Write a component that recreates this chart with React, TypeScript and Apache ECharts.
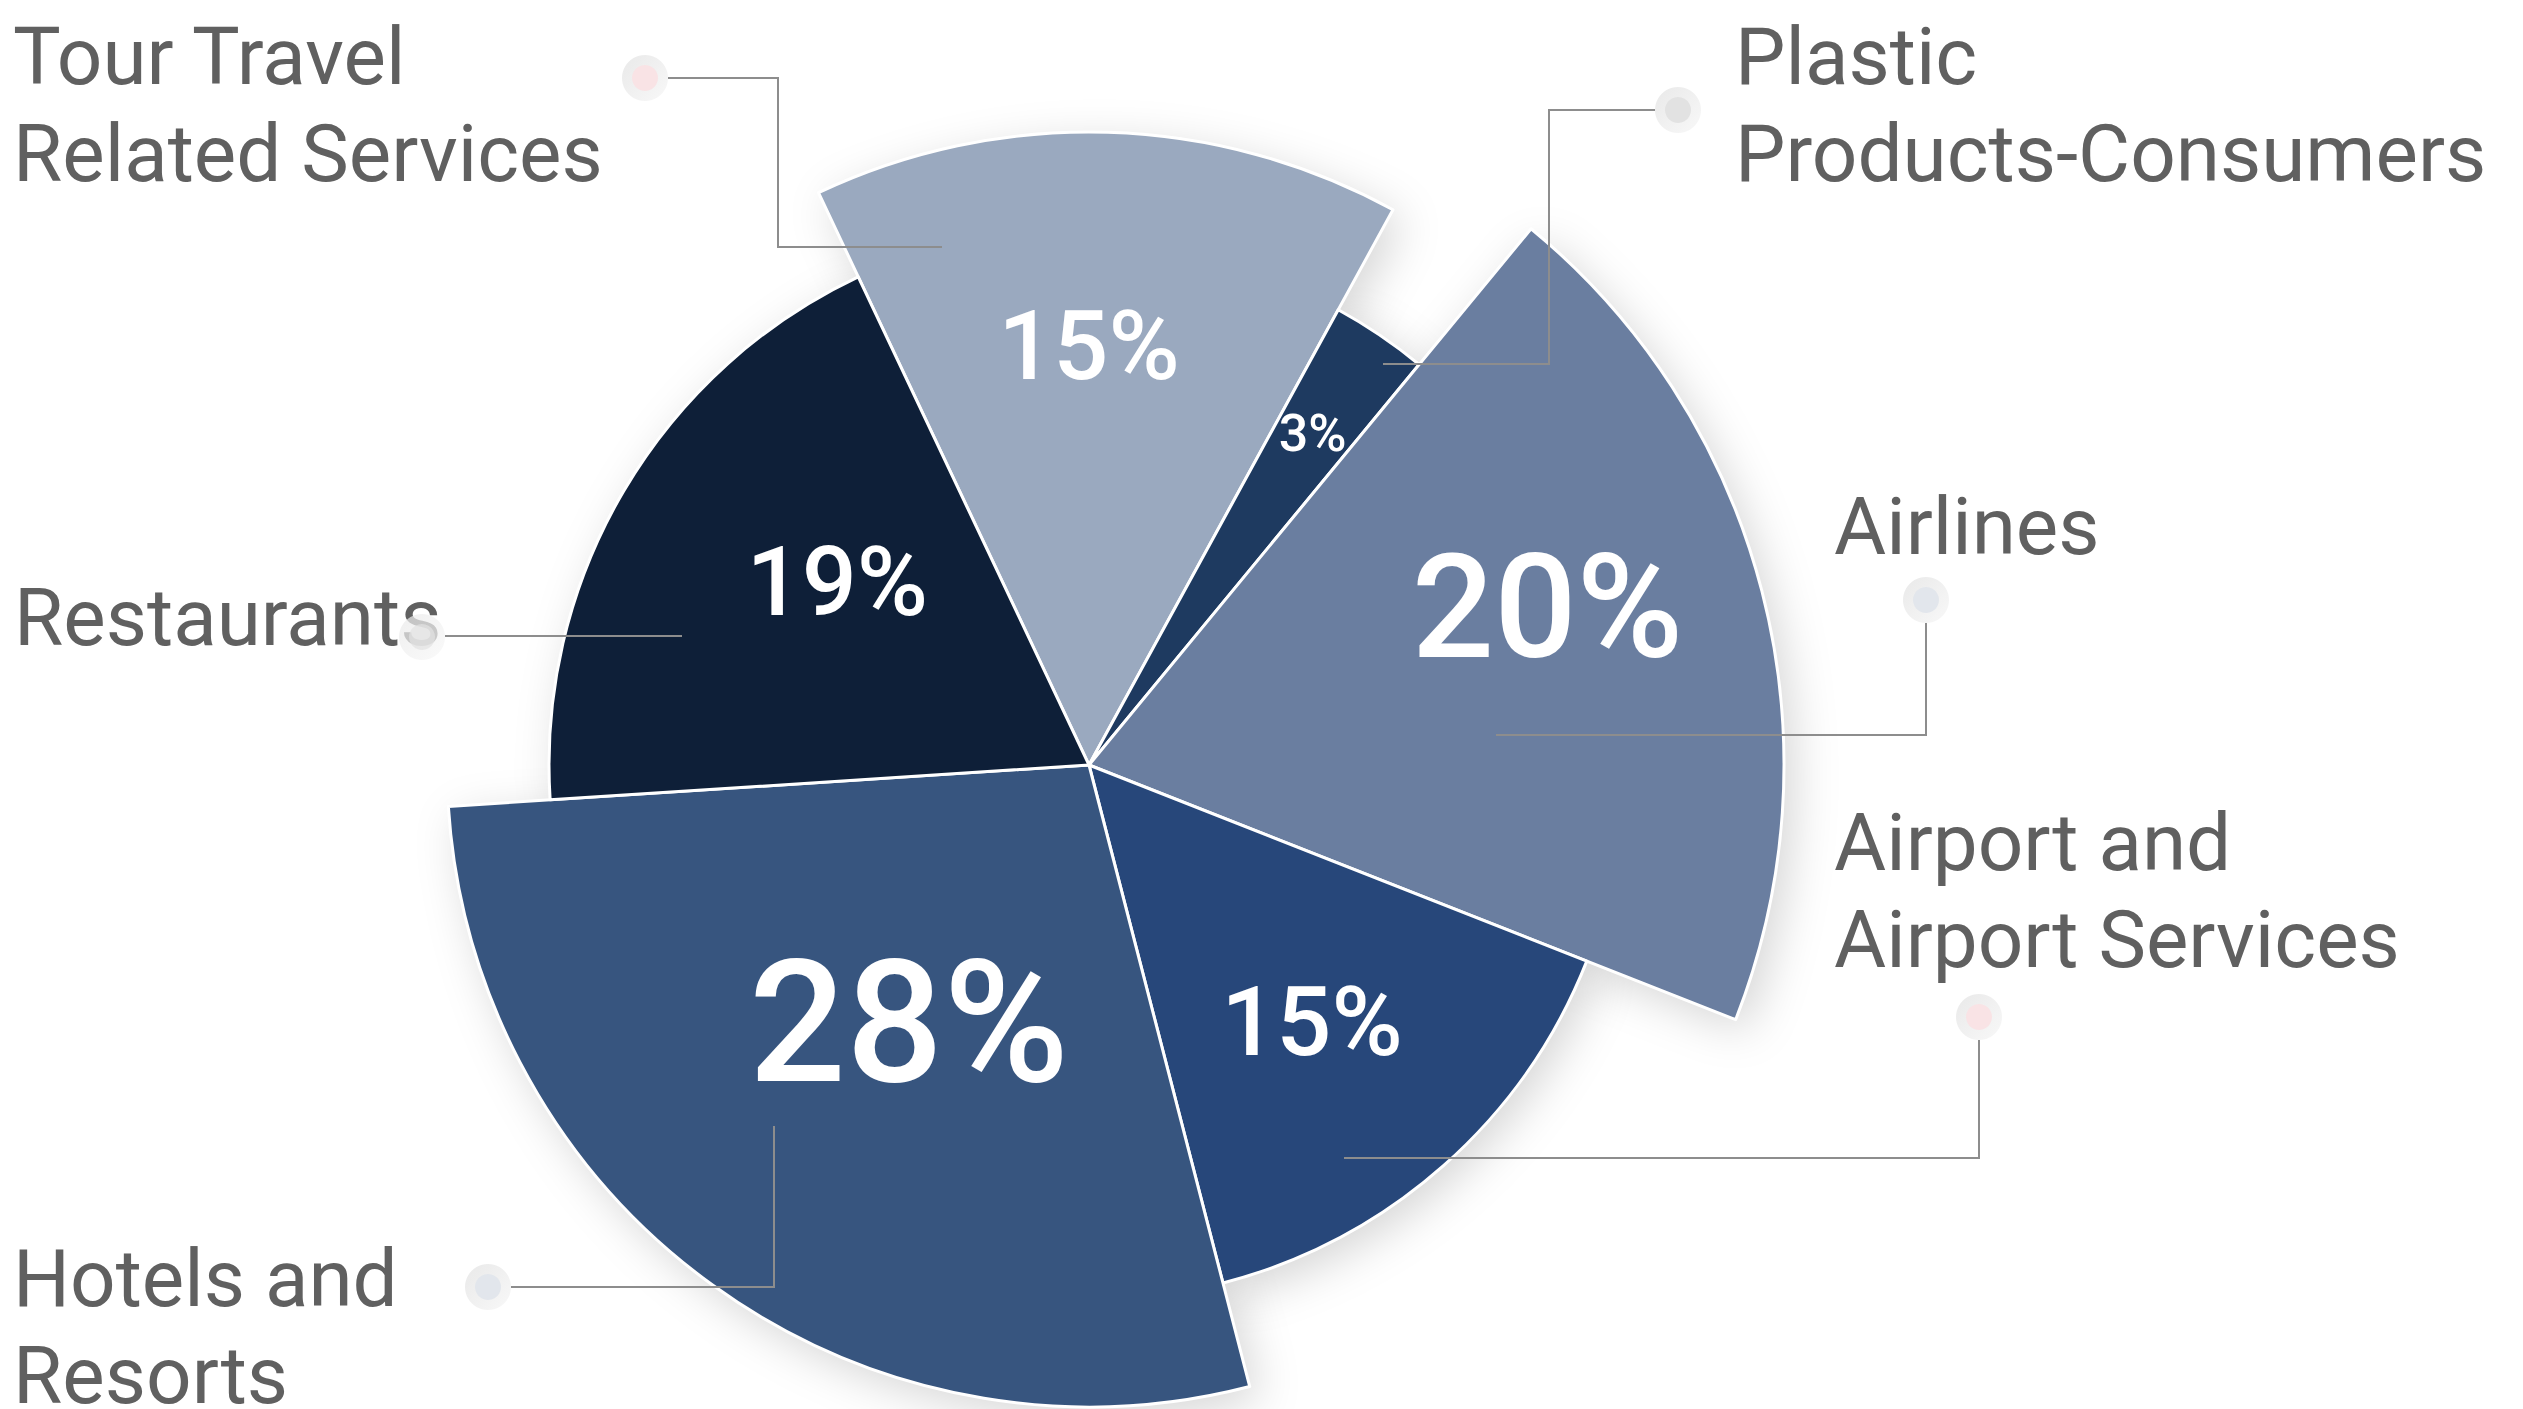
import React, { useEffect, useRef } from "react";
import * as echarts from "echarts";

// ---------- data ----------
const categories = [
  "Tour Travel Related Services",
  "Plastic Products-Consumers",
  "Airlines",
  "Airport and Airport Services",
  "Hotels and Resorts",
  "Restaurants",
];
const shares = [15, 3, 20, 15, 28, 19];
const nameLabels = [
  "Tour Travel\nRelated Services",
  "Plastic\nProducts-Consumers",
  "Airlines",
  "Airport and\nAirport Services",
  "Hotels and\nResorts",
  "Restaurants",
];

// ---------- styling / layout ----------
const W = 2523;
const H = 1409;
const CX = 1089;
const CY = 765;
const START_ANGLE = 115.3;
const sliceColors = ["#9aa9bf", "#1e3a60", "#6a7ea0", "#27477a", "#37557f", "#0e1f38"];
const sliceRadius = [633, 519, 695, 535, 642, 540];
const pctFontSize = [97, 52, 145, 97, 171, 97];
// [angle from 12 o'clock clockwise (deg), distance from centre (px)]
const pctLabelPolar = [
  [0, 419],
  [34, 400],
  [71, 485],
  [139, 340],
  [215, 314],
  [306, 311],
];
const nameLabelAnchor = [
  [13, 105],
  [1735, 105],
  [1834, 527],
  [1834, 891],
  [13, 1327],
  [14, 618],
];
const leaderPoints = [
  [[942, 247], [778, 247], [778, 78], [668, 78]],
  [[1383, 364], [1549, 364], [1549, 110], [1655, 110]],
  [[1496, 735], [1926, 735], [1926, 623]],
  [[1344, 1158], [1979, 1158], [1979, 1040]],
  [[774, 1126], [774, 1287], [511, 1287]],
  [[682, 636], [445, 636]],
];
const dotCenter = [
  [645, 78],
  [1678, 110],
  [1926, 600],
  [1979, 1017],
  [488, 1287],
  [422, 637],
];
const dotInner = ["#f9e3e5", "#e2e2e2", "#e2e6ec", "#f9e3e5", "#e2e6ec", "#e2e2e2"];
const dotOpacity = [1, 1, 1, 1, 1, 0.72];

const hidden = {
  itemStyle: { color: "rgba(0,0,0,0)", borderWidth: 0, shadowBlur: 0, shadowColor: "rgba(0,0,0,0)" },
  label: { show: false },
  labelLine: { show: false },
};

function sliceSeries(i: number, withShadow: boolean): any {
  return {
    type: "pie",
    z: withShadow ? 1 : 2,
    silent: true,
    center: [CX, CY],
    radius: [0, sliceRadius[i]],
    startAngle: START_ANGLE,
    clockwise: true,
    avoidLabelOverlap: false,
    emphasis: { disabled: true },
    labelLayout: withShadow
      ? undefined
      : () => {
          const [a, d] = pctLabelPolar[i];
          const rad = (a * Math.PI) / 180;
          return {
            x: CX + d * Math.sin(rad),
            y: CY - d * Math.cos(rad),
            align: "center",
            verticalAlign: "middle",
          };
        },
    data: shares.map((v, j) => {
      if (j !== i) return { value: v, name: categories[j], ...hidden };
      return {
        value: v,
        name: categories[j],
        itemStyle: withShadow
          ? {
              color: "#ffffff",
              borderWidth: 0,
              shadowBlur: 45,
              shadowColor: "rgba(0,0,0,0.16)",
              shadowOffsetX: 10,
              shadowOffsetY: 12,
            }
          : { color: sliceColors[j], borderColor: "#ffffff", borderWidth: 3 },
        label: withShadow
          ? { show: false }
          : {
              show: true,
              position: "inside",
              formatter: `${v}%`,
              color: "#ffffff",
              fontFamily: "Roboto",
              fontWeight: 500,
              fontSize: pctFontSize[j],
            },
        labelLine: { show: false },
      };
    }),
  };
}

export default function App() {
  const ref = useRef<HTMLDivElement>(null);

  useEffect(() => {
    if (!ref.current) return;
    const chart = echarts.init(ref.current, null, { renderer: "svg" });

    const series: any[] = [];
    for (let i = 0; i < shares.length; i++) series.push(sliceSeries(i, true));
    for (let i = 0; i < shares.length; i++) series.push(sliceSeries(i, false));

    // transparent carrier series for the category name labels and their leader lines
    series.push({
      type: "pie",
      z: 3,
      silent: true,
      center: [CX, CY],
      radius: [0, 200],
      startAngle: START_ANGLE,
      avoidLabelOverlap: false,
      emphasis: { disabled: true },
      itemStyle: { color: "rgba(0,0,0,0)", borderWidth: 0 },
      label: {
        show: true,
        position: "outside",
        formatter: (p: any) => nameLabels[p.dataIndex],
        color: "#606060",
        fontFamily: "Roboto",
        fontSize: 80,
        lineHeight: 97,
        overflow: "none",
      },
      labelLine: {
        show: true,
        smooth: false,
        length: 10,
        length2: 10,
        lineStyle: { color: "#8d8d8d", width: 2 },
      },
      labelLayout: (p: any) => {
        const k = p.dataIndex;
        return {
          x: nameLabelAnchor[k][0],
          y: nameLabelAnchor[k][1],
          align: "left",
          verticalAlign: "middle",
          labelLinePoints: leaderPoints[k],
        };
      },
      data: shares.map((v, j) => ({ value: v, name: categories[j] })),
    });

    const graphic: any[] = [];
    dotCenter.forEach(([x, y], k) => {
      graphic.push({
        type: "circle",
        z: 100,
        silent: true,
        shape: { cx: x, cy: y, r: 23 },
        style: {
          opacity: dotOpacity[k],
          fill: new echarts.graphic.LinearGradient(0, 0, 1, 1, [
            { offset: 0, color: "#e9e9e9" },
            { offset: 1, color: "#f8f8f8" },
          ]),
        },
      });
      graphic.push({
        type: "circle",
        z: 101,
        silent: true,
        shape: { cx: x, cy: y, r: 13 },
        style: { fill: dotInner[k], opacity: dotOpacity[k] },
      });
    });

    chart.setOption({
      animation: false,
      backgroundColor: "#ffffff",
      series,
      graphic,
    });

    return () => chart.dispose();
  }, []);

  return (
    <div
      ref={ref}
      style={{ position: "fixed", left: 0, top: 0, width: W, height: H, background: "#ffffff" }}
    />
  );
}
